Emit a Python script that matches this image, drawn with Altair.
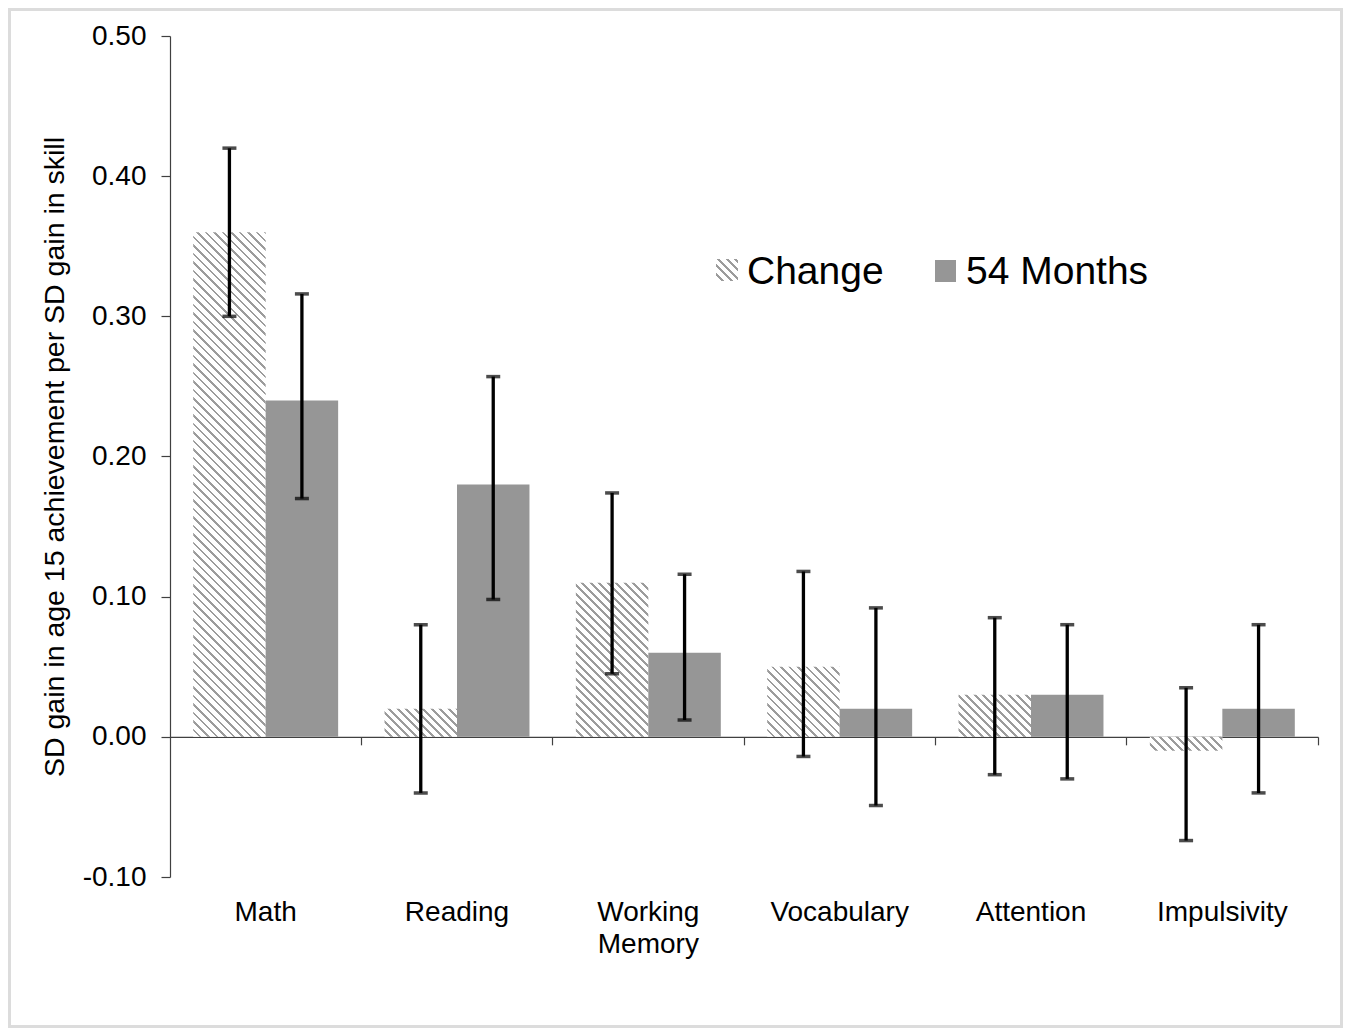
import altair as alt
import pandas as pd

# ---------------- data ----------------
categories = ["Math", "Reading", "Working Memory", "Vocabulary", "Attention", "Impulsivity"]
series = ["Change", "54 Months"]

change = [0.36, 0.02, 0.11, 0.05, 0.03, -0.01]
change_lo = [0.300, -0.040, 0.045, -0.014, -0.027, -0.074]
change_hi = [0.420, 0.080, 0.174, 0.118, 0.085, 0.035]

m54 = [0.24, 0.18, 0.06, 0.02, 0.03, 0.02]
m54_lo = [0.170, 0.098, 0.012, -0.049, -0.030, -0.040]
m54_hi = [0.316, 0.257, 0.116, 0.092, 0.080, 0.080]

y_ticks = [-0.1, 0.0, 0.1, 0.2, 0.3, 0.4, 0.5]
y_title = "SD gain in age 15 achievement per SD gain in skill"

rows = []
for i, c in enumerate(categories):
    rows.append(dict(category=c, series=series[0], value=change[i], lo=change_lo[i], hi=change_hi[i]))
    rows.append(dict(category=c, series=series[1], value=m54[i], lo=m54_lo[i], hi=m54_hi[i]))
df = pd.DataFrame(rows)
legend_df = pd.DataFrame({"series": series})
frame_df = pd.DataFrame({"k": [0]})

# ---------------- layout / style ----------------
W, H = 1148, 841
PL, PT, PR, PB = 162, 28, 25, 151
YMIN, YMAX = -0.1, 0.5
FONT = "Liberation Sans"
GRAY = "#969696"
HATCH = "#9c9c9c"
AXC = "#404040"

band = W / len(categories)
outer = 0.32
bar_w = band / (2 + 2 * outer)
px_per_unit = H / (YMAX - YMIN)


def hatch(w, h, period=8.5, duty=0.32):
    """Diagonal hatch as a bounding-box linear gradient with hard stops."""
    h = max(h, 1.0)
    n = max(1.0, (w + h) / period)
    s = (w + h) / (w * w + h * h)
    stops = []
    k = 0
    while k < n:
        a = min(k / n, 1.0)
        b = min((k + 1 - duty) / n, 1.0)
        c = min((k + 1) / n, 1.0)
        stops += [
            alt.GradientStop(offset=a, color="white"),
            alt.GradientStop(offset=b, color="white"),
            alt.GradientStop(offset=b, color=HATCH),
            alt.GradientStop(offset=c, color=HATCH),
        ]
        k += 1
    return alt.LinearGradient(gradient="linear", x1=0, y1=1, x2=s * w, y2=1 - s * h, stops=stops)


xs = alt.Scale(domain=categories, paddingInner=0, paddingOuter=0)
xos = alt.Scale(domain=series, paddingInner=0, paddingOuter=outer)
ys = alt.Scale(domain=[YMIN, YMAX], nice=False)

y_axis = alt.Axis(
    values=y_ticks, grid=False,
    labelExpr="(datum.value < 0 ? '-' : '') + format(abs(datum.value), '.2f')",
    labelFontSize=28, labelColor="black", labelPadding=15, labelFont=FONT,
    tickSize=9, tickColor=AXC, domainColor=AXC, tickWidth=1.2, domainWidth=1.2,
    title=y_title, titleFontSize=28.5, titleFontWeight="normal", titleColor="black", titleFont=FONT,
    titleAngle=270, titleX=-107, titleY=H / 2, titleAlign="center", titleBaseline="alphabetic",
)

label_axis = alt.Axis(
    orient="bottom", domain=False, ticks=False, tickSize=0, grid=False,
    labelFontSize=28, labelColor="black", labelFont=FONT, labelPadding=43,
    labelBaseline="alphabetic", labelLineHeight=32, labelAngle=0,
    labelExpr="split(datum.label, ' ')",
)

zero_axis = alt.Axis(
    orient="bottom", offset=-H * (0 - YMIN) / (YMAX - YMIN), bandPosition=1,
    labels=False, domain=True, domainColor=AXC, domainWidth=1.2,
    ticks=True, tickSize=8, tickColor=AXC, tickWidth=1.2, grid=False,
)

xo = alt.XOffset("series:N", scale=xos)
base = alt.Chart(df)

layers = []

# hatched "Change" bars (one layer per bar so the hatch keeps its angle)
for i, c in enumerate(categories):
    layers.append(
        base.transform_filter((alt.datum.series == series[0]) & (alt.datum.category == c))
        .mark_bar(fill=hatch(bar_w, abs(change[i]) * px_per_unit))
        .encode(
            x=alt.X("category:N", scale=xs, axis=None),
            xOffset=xo,
            y=alt.Y("value:Q", scale=ys, axis=y_axis),
            y2=alt.datum(0),
        )
    )

# solid "54 Months" bars
layers.append(
    base.transform_filter(alt.datum.series == series[1])
    .mark_bar(fill=GRAY)
    .encode(
        x=alt.X("category:N", scale=xs, axis=label_axis, title=None),
        xOffset=xo,
        y=alt.Y("value:Q", scale=ys, axis=y_axis),
        y2=alt.datum(0),
    )
)

# error bars
layers.append(
    base.mark_rule(color="black", strokeWidth=3.3).encode(
        x=alt.X("category:N", scale=xs, axis=zero_axis, title=None),
        xOffset=xo,
        y=alt.Y("lo:Q", scale=ys, axis=y_axis),
        y2="hi:Q",
    )
)
for fld in ["lo", "hi"]:
    layers.append(
        base.mark_tick(color="black", thickness=3.5, size=14).encode(
            x=alt.X("category:N", scale=xs, axis=None),
            xOffset=xo,
            y=alt.Y(f"{fld}:Q", scale=ys, axis=y_axis),
        )
    )

# custom legend
leg_sw = [(546, 568, 223, 245), (765, 786, 224, 246)]
leg_tx = [577, 796]
for j, s in enumerate(series):
    x0, x1, y0, y1 = leg_sw[j]
    sw_fill = hatch(x1 - x0, y1 - y0) if j == 0 else GRAY
    layers.append(
        alt.Chart(legend_df).transform_filter(alt.datum.series == s)
        .mark_rect(fill=sw_fill)
        .encode(x=alt.value(x0), x2=alt.value(x1), y=alt.value(y0), y2=alt.value(y1))
    )
    layers.append(
        alt.Chart(legend_df).transform_filter(alt.datum.series == s)
        .mark_text(align="left", baseline="alphabetic", fontSize=39, font=FONT, color="black")
        .encode(x=alt.value(leg_tx[j]), y=alt.value(248), text="series:N")
    )

# outer frame
layers.append(
    alt.Chart(frame_df).mark_rect(filled=False, stroke="#dcdcdc", strokeWidth=3).encode(
        x=alt.value(-PL + 1.5), x2=alt.value(W + PR - 1.5),
        y=alt.value(-PT + 1.5), y2=alt.value(H + PB - 1.5),
    )
)

chart = (
    alt.layer(*layers)
    .resolve_axis(x="independent")
    .properties(
        width=W, height=H,
        padding={"left": PL, "top": PT, "right": PR, "bottom": PB},
        autosize=alt.AutoSizeParams(type="none"),
        background="white",
    )
    .configure(font=FONT)
    .configure_view(stroke="transparent", strokeWidth=0)
)

chart.save("out.html", embed_options={"renderer": "svg", "actions": False})
